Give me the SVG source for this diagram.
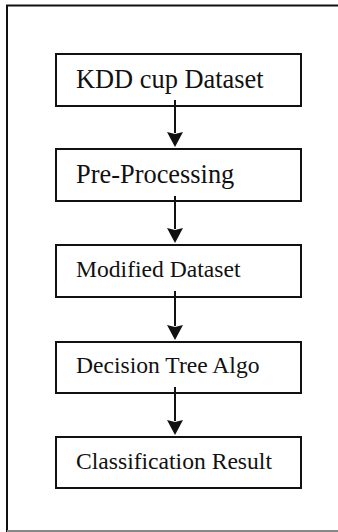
<svg xmlns="http://www.w3.org/2000/svg" width="338" height="532" viewBox="0 0 338 532">
  <style>
    .frame { fill: none; stroke: #111; stroke-width: 2; }
    .box { fill: #fff; stroke: #111; stroke-width: 2; }
    .lbl { font-family: "Liberation Serif", "Times New Roman", serif; fill: #111; }
    .big { font-size: 26.4px; }
    .small { font-size: 23.6px; }
    .edge { stroke: #111; stroke-width: 2; fill: none; }
    .head { fill: #111; }
  </style>

  <!-- outer frame: top and left edges, grey bottom rule -->
  <g id="frame">
    <path class="frame" d="M7,532 L7,5.5 L338,5.5"/>
    <line x1="7" y1="531" x2="338" y2="531" stroke="#888" stroke-width="2"/>
  </g>

  <g id="kdd">
    <rect class="box" x="56" y="54" width="245" height="52"/>
    <text class="lbl big" x="76" y="88">KDD cup Dataset</text>
  </g>
  <g id="preprocessing">
    <rect class="box" x="56" y="149" width="245" height="52"/>
    <text class="lbl big" x="76" y="182.5">Pre-Processing</text>
  </g>
  <g id="modified">
    <rect class="box" x="56" y="245" width="245" height="52"/>
    <text class="lbl small" x="76" y="276.5">Modified Dataset</text>
  </g>
  <g id="decisiontree">
    <rect class="box" x="56" y="342" width="245" height="51"/>
    <text class="lbl small" x="76" y="373">Decision Tree Algo</text>
  </g>
  <g id="result">
    <rect class="box" x="56" y="437" width="245" height="51"/>
    <text class="lbl small" x="76" y="469">Classification Result</text>
  </g>

  <!-- connectors: each starts a little inside the box above -->
  <g id="connectors">
    <line class="edge" x1="175" y1="100" x2="175" y2="133"/>
    <line class="edge" x1="175" y1="196" x2="175" y2="229"/>
    <line class="edge" x1="175" y1="291" x2="175" y2="326"/>
    <line class="edge" x1="175" y1="387" x2="175" y2="421"/>
    <path class="head" d="M167,132 L175,134 L183,132 L175,147 Z"/>
    <path class="head" d="M167,228 L175,230 L183,228 L175,243 Z"/>
    <path class="head" d="M167,325 L175,327 L183,325 L175,340 Z"/>
    <path class="head" d="M167,420 L175,422 L183,420 L175,435 Z"/>
  </g>
</svg>
